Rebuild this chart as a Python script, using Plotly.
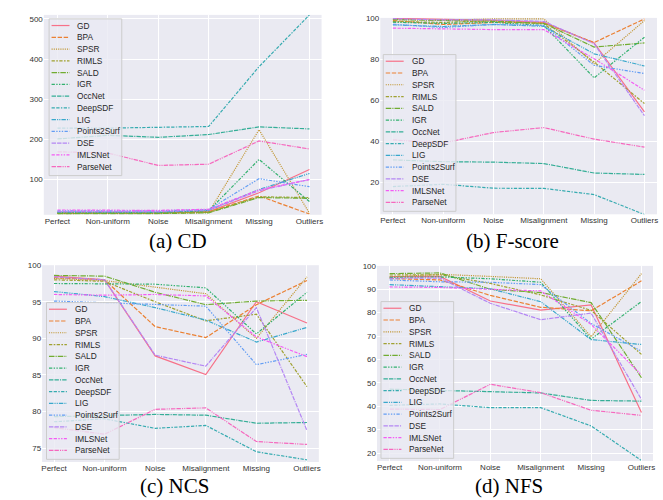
import math
import plotly.graph_objects as go

categories = ["Perfect", "Non-uniform", "Noise", "Misalignment", "Missing", "Outliers"]
methods = ["GD", "BPA", "SPSR", "RIMLS", "SALD", "IGR", "OccNet", "DeepSDF",
           "LIG", "Points2Surf", "DSE", "IMLSNet", "ParseNet"]

cd = {
    "GD":          [16, 16, 17, 20, 67, 125],
    "BPA":         [17, 17, 17, 19, 59, 14],
    "SPSR":        [16, 16, 16, 18, 224, 16],
    "RIMLS":       [15, 15, 16, 18, 57, 55],
    "SALD":        [15, 15, 15, 17, 55, 53],
    "IGR":         [18, 18, 18, 22, 150, 45],
    "OccNet":      [201, 210, 205, 212, 231, 226],
    "DeepSDF":     [228, 228, 230, 232, 381, 510],
    "LIG":         [19, 19, 19, 23, 75, 115],
    "Points2Surf": [22, 22, 22, 25, 102, 82],
    "DSE":         [20, 20, 20, 24, 72, 100],
    "IMLSNet":     [24, 24, 23, 26, 74, 100],
    "ParseNet":    [169, 166, 135, 138, 196, 176],
}

fscore = {
    "GD":          [100.0, 99.5, 99.0, 98.0, 88.0, 54.5],
    "BPA":         [98.9, 97.0, 98.0, 97.7, 88.2, 99.7],
    "SPSR":        [99.5, 99.0, 99.7, 99.7, 77.9, 98.9],
    "RIMLS":       [98.4, 98.0, 98.8, 97.3, 78.7, 58.5],
    "SALD":        [99.4, 99.0, 98.5, 97.5, 86.0, 88.0],
    "IGR":         [98.1, 97.5, 98.0, 96.5, 71.0, 90.8],
    "OccNet":      [31.1, 30.2, 30.0, 29.3, 24.7, 24.0],
    "DeepSDF":     [18.1, 19.2, 17.3, 17.2, 14.2, 4.5],
    "LIG":         [96.8, 96.0, 97.0, 96.1, 82.7, 76.8],
    "Points2Surf": [97.1, 95.5, 97.0, 96.5, 77.1, 73.1],
    "DSE":         [99.8, 99.2, 99.2, 98.5, 87.6, 52.6],
    "IMLSNet":     [95.2, 94.8, 94.5, 94.5, 80.3, 65.0],
    "ParseNet":    [40.8, 39.3, 44.4, 46.8, 41.2, 37.3],
}

ncs = {
    "GD":          [98.5, 98.0, 87.6, 85.05, 95.0, 92.1],
    "BPA":         [98.3, 98.0, 91.6, 90.1, 94.6, 97.9],
    "SPSR":        [98.2, 97.9, 97.0, 96.1, 90.0, 98.4],
    "RIMLS":       [98.0, 97.8, 95.0, 92.4, 93.3, 83.4],
    "SALD":        [98.6, 98.5, 96.3, 94.6, 95.1, 95.2],
    "IGR":         [97.5, 97.5, 97.4, 96.9, 90.6, 96.3],
    "OccNet":      [79.3, 79.4, 79.6, 79.5, 78.4, 78.5],
    "DeepSDF":     [78.6, 79.0, 77.7, 78.1, 74.5, 73.4],
    "LIG":         [96.4, 95.7, 94.2, 92.5, 89.5, 91.5],
    "Points2Surf": [95.1, 94.9, 94.6, 94.4, 86.4, 87.8],
    "DSE":         [98.4, 98.0, 87.7, 86.2, 94.2, 77.4],
    "IMLSNet":     [96.0, 95.9, 96.0, 95.8, 90.2, 87.5],
    "ParseNet":    [77.8, 76.9, 80.3, 80.5, 75.9, 75.5],
}

nfs = {
    "GD":          [95.4, 95.5, 85.0, 81.1, 83.3, 37.3],
    "BPA":         [94.6, 94.0, 87.4, 82.3, 80.8, 93.6],
    "SPSR":        [95.2, 96.4, 95.5, 94.5, 69.7, 96.7],
    "RIMLS":       [96.1, 96.2, 92.5, 87.6, 81.0, 62.2],
    "SALD":        [96.7, 97.0, 90.0, 88.6, 84.3, 52.2],
    "IGR":         [95.1, 95.3, 94.5, 93.0, 68.7, 84.8],
    "OccNet":      [47.3, 46.8, 46.1, 45.7, 42.5, 42.2],
    "DeepSDF":     [40.4, 41.0, 39.4, 39.4, 31.6, 16.8],
    "LIG":         [92.0, 91.0, 90.2, 84.7, 68.5, 66.4],
    "Points2Surf": [94.0, 93.2, 93.0, 92.0, 75.4, 63.5],
    "DSE":         [94.7, 94.8, 84.0, 77.0, 79.8, 42.9],
    "IMLSNet":     [91.0, 90.8, 90.0, 89.3, 75.0, 53.4],
    "ParseNet":    [38.8, 38.6, 49.4, 45.8, 38.3, 36.1],
}

cd_ticks = [100, 200, 300, 400, 500]
fscore_ticks = [20, 40, 60, 80, 100]
ncs_ticks = [75, 80, 85, 90, 95, 100]
nfs_ticks = [20, 30, 40, 50, 60, 70, 80, 90, 100]

# ---------- seaborn-like husl palette ----------
_m = [[3.2406, -1.5372, -0.4986], [-0.9689, 1.8758, 0.0415], [0.0557, -0.2040, 1.0570]]
_refU, _refV = 0.19784, 0.46834


def _max_chroma(L, H):
    hrad = math.radians(H)
    sinH, cosH = math.sin(hrad), math.cos(hrad)
    sub1 = (L + 16) ** 3 / 1560896.0
    sub2 = sub1 if sub1 > 0.008856 else L / 903.3
    result = float("inf")
    for m1, m2, m3 in _m:
        top = (0.99915 * m1 + 1.05122 * m2 + 1.14460 * m3) * sub2
        rb = 0.86330 * m3 - 0.17266 * m2
        lb = 0.12949 * m3 - 0.38848 * m1
        bottom = (rb * sinH + lb * cosH) * sub2
        for t in (0.0, 1.0):
            C = L * (top - 1.05122 * t) / (bottom + 0.17266 * sinH * t)
            if 0.0 < C < result:
                result = C
    return result


def _husl_to_rgb(h, s, l):
    C = _max_chroma(l, h) / 100.0 * s
    hr = math.radians(h)
    U, V = math.cos(hr) * C, math.sin(hr) * C
    t = (l + 16) / 116.0
    varY = t ** 3 if t ** 3 > 0.008856 else (116 * t - 16) / 903.3
    varU = U / (13 * l) + _refU
    varV = V / (13 * l) + _refV
    Y = varY
    X = -(9 * Y * varU) / ((varU - 4) * varV - varU * varV)
    Z = (9 * Y - 15 * varV * Y - varV * X) / (3 * varV)
    out = []
    for row in _m:
        c = row[0] * X + row[1] * Y + row[2] * Z
        c = 12.92 * c if c <= 0.0031308 else 1.055 * c ** (1 / 2.4) - 0.055
        out.append(min(max(c, 0.0), 1.0))
    return "rgb(%d,%d,%d)" % tuple(round(v * 255) for v in out)


n = len(methods)
colors = []
for i in range(n):
    hue = ((i / n) + 0.01) % 1 * 359
    colors.append(_husl_to_rgb(hue, 0.9 * 99, 0.65 * 99))

# seaborn unique dash patterns (units of line width)
dash_units = [None, (4, 1.5), (1, 1), (3, 1.25, 1.5, 1.25), (5, 1, 1, 1),
              (3, 1.25, 1.25, 1.25, 1.25, 1.25), (4, 1, 4, 1, 1, 1),
              (3, 1.25, 3, 1.25, 1.25, 1.25), (4, 1, 1, 1, 1, 1),
              (3, 1.25, 1.25, 1.25, 1.25, 1.25, 1.25, 1.25),
              (4, 1, 4, 1, 4, 1, 1, 1),
              (3, 1.25, 3, 1.25, 1.25, 1.25, 1.25, 1.25),
              (4, 1, 4, 1, 1, 1, 1, 1)]
UNIT = 1.1
LW = 1.2


def dash_str(d):
    if d is None:
        return "solid"
    return ",".join("%.2fpx" % (v * UNIT) for v in d)


dashes = [dash_str(d) for d in dash_units]

W, H = 663, 500
panels = [
    dict(data=cd, title="(a) CD", box=(43, 11, 322, 212.5), yrange=[12, 510],
         xrange=[-0.27, 5.24], yticks=cd_ticks, legend=(48.3, 15), tpos=(178, 239)),
    dict(data=fscore, title="(b) F-score", box=(381, 14, 659, 212), yrange=[4.6, 100.2],
         xrange=[-0.25, 5.25], yticks=fscore_ticks, legend=(384, 51), tpos=(514, 239)),
    dict(data=ncs, title="(c) NCS", box=(41.3, 263.3, 319.3, 461.7), yrange=[73.1, 100],
         xrange=[-0.235, 5.235], yticks=ncs_ticks, legend=(45.7, 301), tpos=(174, 486)),
    dict(data=nfs, title="(d) NFS", box=(377.7, 264, 655, 460.7), yrange=[16.6, 100],
         xrange=[-0.25, 5.23], yticks=nfs_ticks, legend=(381.7, 300), tpos=(510, 486)),
]

fig = go.Figure()
shapes = []
annotations = []
layout = dict(width=W, height=H, margin=dict(l=0, r=0, t=0, b=0),
              paper_bgcolor="white", plot_bgcolor="#EAEAF2", showlegend=False,
              font=dict(family="Liberation Sans, Arial, sans-serif", size=8, color="#262626"))

tick_font = dict(family="Liberation Sans, Arial, sans-serif", size=8, color="#333333")
for k, p in enumerate(panels):
    idx = "" if k == 0 else str(k + 1)
    x0, y0, x1, y1 = p["box"]
    layout["xaxis" + idx] = dict(
        domain=[x0 / W, x1 / W], anchor="y" + idx, type="category",
        categoryorder="array", categoryarray=categories, range=p["xrange"],
        showgrid=True, gridcolor="white", gridwidth=1, zeroline=False, showline=False,
        ticks="", tickfont=tick_font, fixedrange=True)
    layout["yaxis" + idx] = dict(
        domain=[1 - y1 / H, 1 - y0 / H], anchor="x" + idx, range=p["yrange"],
        tickvals=p["yticks"], showgrid=True, gridcolor="white", gridwidth=1,
        zeroline=False, showline=False, ticks="", tickfont=tick_font, fixedrange=True)
    for i, mname in enumerate(methods):
        fig.add_trace(go.Scatter(
            x=categories, y=p["data"][mname], mode="lines", name=mname,
            xaxis="x" + idx, yaxis="y" + idx,
            line=dict(color=colors[i], width=LW, dash=dashes[i])))
    # custom legend box
    lx, ly = p["legend"]
    bw, bh = 73, 158
    shapes.append(dict(type="rect", xref="paper", yref="paper",
                       x0=lx / W, x1=(lx + bw) / W, y0=1 - (ly + bh) / H, y1=1 - ly / H,
                       fillcolor="rgba(234,234,242,0.8)", line=dict(color="#cccccc", width=1),
                       layer="above"))
    pitch = 11.86
    for i, mname in enumerate(methods):
        yc = ly + 6.7 + i * pitch
        shapes.append(dict(type="line", xref="paper", yref="paper",
                           x0=(lx + 2.5) / W, x1=(lx + 20.5) / W,
                           y0=1 - yc / H, y1=1 - yc / H,
                           line=dict(color=colors[i], width=LW, dash=dashes[i]),
                           layer="above"))
        annotations.append(dict(text=mname, xref="paper", yref="paper",
                                x=(lx + 26.5) / W, y=1 - yc / H, xanchor="left",
                                yanchor="middle", showarrow=False,
                                font=dict(family="Liberation Sans, Arial, sans-serif",
                                          size=8.3, color="#262626")))
    tx, ty = p["tpos"]
    annotations.append(dict(text=p["title"], xref="paper", yref="paper",
                            x=tx / W, y=1 - ty / H, xanchor="center", yanchor="middle",
                            showarrow=False, borderpad=0,
                            font=dict(family="Liberation Serif, Times New Roman, serif",
                                      size=21, color="black")))

layout["shapes"] = shapes
layout["annotations"] = annotations
fig.update_layout(**layout)
fig.write_html("out.html", config={"displayModeBar": False},
               post_script="document.body.style.margin='0';document.body.style.overflow='hidden';")
